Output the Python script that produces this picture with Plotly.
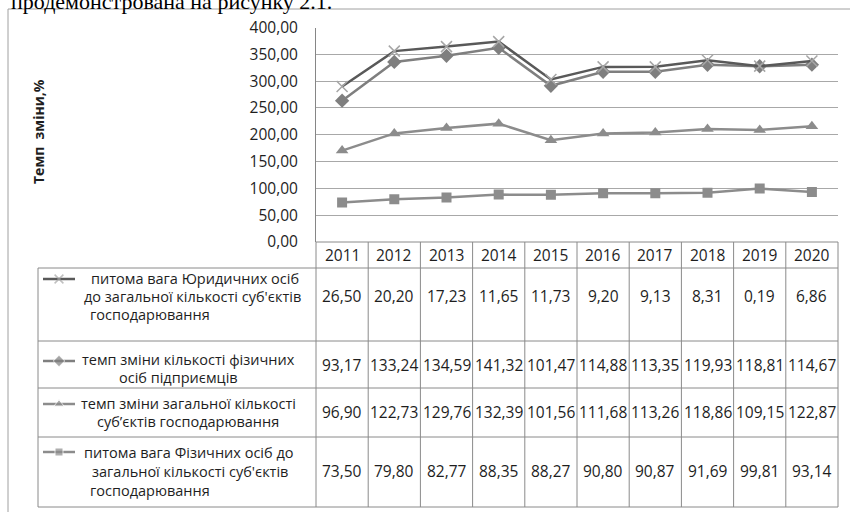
import plotly.graph_objects as go

# ---------------- data ----------------
years = [2011, 2012, 2013, 2014, 2015, 2016, 2017, 2018, 2019, 2020]
legal_share = [26.50, 20.20, 17.23, 11.65, 11.73, 9.20, 9.13, 8.31, 0.19, 6.86]
fop_rate = [93.17, 133.24, 134.59, 141.32, 101.47, 114.88, 113.35, 119.93, 118.81, 114.67]
total_rate = [96.90, 122.73, 129.76, 132.39, 101.56, 111.68, 113.26, 118.86, 109.15, 122.87]
phys_share = [73.50, 79.80, 82.77, 88.35, 88.27, 90.80, 90.87, 91.69, 99.81, 93.14]

y_ticks = [0, 50, 100, 150, 200, 250, 300, 350, 400]

name_legal = ["питома вага Юридичних осіб", "до загальної кількості суб'єктів", "господарювання"]
name_fop = ["темп зміни кількості фізичних", "осіб підприємців"]
name_total = ["темп зміни загальної кількості", "суб’єктів господарювання"]
name_phys = ["питома вага Фізичних осіб до", "загальної кількості суб'єктів", "господарювання"]

y_title = "Темп\u00a0 зміни,%"
doc_text = "продемонстрована на рисунку 2.1."

# ---------------- geometry helpers ----------------
W, H = 850, 512
def px(x):
    return x / W
def py(y):
    return 1 - y / H

X0, X1 = 316, 838
Y_TOP, Y_BOT = 27.5, 242
TABLE_LEFT = 38
ROW_LINES = [268, 341, 388, 437, 507]

FONT = "Open Sans"
TXT = "#1e1e1e"
BORDER = "#8a8a8a"

cats = [str(y) for y in years]
cw = (X1 - X0) / len(years)
def col_center(i):
    return X0 + (i + 0.5) * cw

fig = go.Figure()

# stacked lines (Excel stacked line chart): bottom -> top
series = [
    (phys_share, dict(symbol="square", size=10, color="#8c8c8c"), "#8c8c8c", 2.5),
    (total_rate, dict(symbol="triangle-up", size=11, color="#8c8c8c"), "#8c8c8c", 2.5),
    (fop_rate, dict(symbol="diamond", size=11, color="#7f7f7f"), "#7f7f7f", 2.5),
    (legal_share, dict(symbol="x-thin", size=11, color="#a6a6a6",
                       line=dict(width=1.5, color="#a6a6a6")), "#595959", 2.5),
]
for vals, mk, lc, lw in series:
    fig.add_trace(go.Scatter(
        x=cats, y=vals, stackgroup="s", fill="none", mode="lines+markers",
        line=dict(color=lc, width=lw), marker=mk, showlegend=False,
        hoverinfo="skip", xaxis="x", yaxis="y"))

# legend keys in the data table (overlay pixel axes)
key_rows = [
    (279, series[3]),
    (361, series[2]),
    (404, series[1]),
    (452, series[0]),
]
for ky, (vals, mk, lc, lw) in key_rows:
    m = dict(mk)
    m["size"] = [0, mk["size"] * 0.8, 0]
    fig.add_trace(go.Scatter(
        x=[43, 59, 75], y=[ky, ky, ky], mode="lines+markers",
        line=dict(color=lc, width=lw), marker=m, showlegend=False,
        hoverinfo="skip", xaxis="x2", yaxis="y2"))

shapes = []
def hline(y, xa, xb, color=BORDER, w=1):
    shapes.append(dict(type="line", xref="paper", yref="paper",
                       x0=px(xa), x1=px(xb), y0=py(y), y1=py(y),
                       line=dict(color=color, width=w)))
def vline(x, ya, yb, color=BORDER, w=1):
    shapes.append(dict(type="line", xref="paper", yref="paper",
                       x0=px(x), x1=px(x), y0=py(ya), y1=py(yb),
                       line=dict(color=color, width=w)))

# outer frame
shapes.append(dict(type="rect", xref="paper", yref="paper",
                   x0=px(8), x1=px(870), y0=py(9), y1=py(530),
                   line=dict(color="#a0a0a0", width=1)))

# table
hline(Y_BOT, X0, X1)
for ry in ROW_LINES:
    hline(ry, TABLE_LEFT, X1)
vline(TABLE_LEFT, ROW_LINES[0], ROW_LINES[-1])
for k in range(len(years) + 1):
    vline(X0 + k * cw, Y_BOT, ROW_LINES[-1])

annotations = []
def note(x, y, text, size=15, anchor="center", family=FONT, color=TXT, **kw):
    d = dict(x=px(x), xref="paper", y=py(y), yref="paper", text=text,
             showarrow=False, font=dict(family=family, size=size, color=color),
             xanchor=anchor, yanchor="middle")
    d.update(kw)
    annotations.append(d)

# header years
for i, c in enumerate(cats):
    note(col_center(i), 255, c, size=15.5)

def fmt(v):
    return f"{v:.2f}".replace(".", ",")

value_rows = [
    (legal_share, 296),
    (fop_rate, 365),
    (total_rate, 412),
    (phys_share, 471),
]
for vals, yv in value_rows:
    for i, v in enumerate(vals):
        note(col_center(i), yv, fmt(v), size=15.5)

# legend names in table
name_lines = [
    (name_legal, [(195, 278), (192, 296), (150, 314)]),
    (name_fop, [(188, 359), (178, 377)]),
    (name_total, [(188, 403), (188, 421)]),
    (name_phys, [(188, 452), (190, 471), (150, 490)]),
]
for lines, pos in name_lines:
    for t, (cx, cy) in zip(lines, pos):
        note(cx, cy, t, size=14.5)

# y axis title
note(38, 132, "<b>" + y_title + "</b>", size=14, textangle=-90)

# cropped document text at the very top
note(9, 1, doc_text, size=22, anchor="left", family="Liberation Serif", color="#000000")

fig.update_layout(
    width=W, height=H, autosize=False,
    margin=dict(l=0, r=0, t=0, b=0, pad=0, autoexpand=False),
    paper_bgcolor="white", plot_bgcolor="rgba(0,0,0,0)",
    separators=", ",
    showlegend=False,
    xaxis=dict(domain=[px(X0), px(X1)], type="category", range=[-0.5, len(years) - 0.5],
               showticklabels=False, showgrid=False, zeroline=False, showline=False,
               fixedrange=True, anchor="y", automargin=False),
    yaxis=dict(domain=[py(Y_BOT), py(Y_TOP)], range=[0, 400], tickvals=y_ticks,
               tickformat=".2f", showgrid=True, gridcolor="#a8a8a8", gridwidth=1,
               showline=True, linecolor="#868686", linewidth=1, zeroline=False,
               ticks="outside", ticklen=14, tickcolor="rgba(0,0,0,0)",
               tickfont=dict(family=FONT, size=15.5, color=TXT), fixedrange=True,
               anchor="x", automargin=False),
    xaxis2=dict(domain=[0, 1], range=[0, W], visible=False, anchor="y2",
                fixedrange=True, automargin=False),
    yaxis2=dict(domain=[0, 1], range=[H, 0], visible=False, anchor="x2",
                fixedrange=True, automargin=False),
    shapes=shapes,
    annotations=annotations,
)

fig.write_html(
    "out.html",
    config={"displayModeBar": False, "responsive": False},
    post_script="document.body.style.margin='0';document.body.style.overflow='hidden';",
)
